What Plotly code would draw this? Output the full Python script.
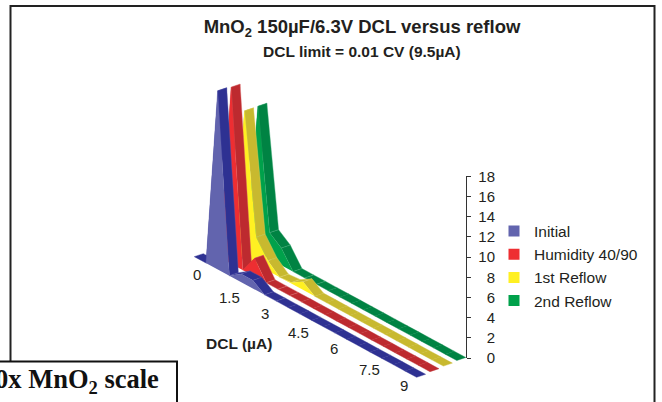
import plotly.graph_objects as go

# ---- data ----
dcl = [i * 0.5 for i in range(20)]
dcl_ticks = ["0", "1.5", "3", "4.5", "6", "7.5", "9"]
series_names = ["Initial", "Humidity 40/90", "1st Reflow", "2nd Reflow"]
initial = [0, 0, 17.7, 0, 0.8, 0.8, 0, 0, 0, 0, 0, 0, 0, 0, 0, 0, 0, 0, 0, 0]
humidity = [0, 0, 17.5, 0, 1.8, 0, 0, 0, 0, 0, 0, 0, 0, 0, 0, 0, 0, 0, 0, 0]
reflow1 = [0, 0, 14.6, 2.7, 1.0, 0, 0.1, 0.8, 0, 0, 0, 0, 0, 0, 0, 0, 0, 0, 0, 0]
reflow2 = [0, 0, 14.5, 2.6, 1.7, 0, 0, 0, 0, 0, 0, 0, 0, 0, 0, 0, 0, 0, 0, 0]
value_ticks = list(range(0, 19, 2))

# ---- styles / oblique projection ----
W, H = 662, 402
face_colors = ["#6264ae", "#ee2e32", "#fff022", "#00a14b"]
strip_colors = ["#2e3192", "#bd2a2f", "#c8b92f", "#008343"]
seam_colors = ["#5557a8", "#d86a6a", "#ddd36a", "#3da873"]
PX = 10.09            # pixels per value unit
Y0 = 358              # pixel row of value 0 on the right axis
X_ORG, Y_ORG = 194.3, 256.65
DX, DY = 23.4, 12.7   # pixels per unit of DCL
SX, SY = 13.4, -5.6   # pixels per series
BX, BY = 9.0, -3.0    # ribbon depth


def sx(d, s, back=0):
    return X_ORG + d * DX + s * SX + back * BX


def sy(d, s, v, back=0):
    row = Y_ORG + d * DY + s * SY + back * BY
    return v - (row - Y0) / PX


fig = go.Figure()
all_series = [initial, humidity, reflow1, reflow2]

for s in [3, 2, 1, 0]:
    vals = all_series[s]
    for i in range(len(dcl) - 1):
        d0, d1 = dcl[i], dcl[i + 1]
        v0, v1 = vals[i], vals[i + 1]
        fig.add_trace(go.Scatter(
            x=[sx(d0, s), sx(d1, s), sx(d1, s, 1), sx(d0, s, 1), sx(d0, s)],
            y=[sy(d0, s, v0), sy(d1, s, v1), sy(d1, s, v1, 1), sy(d0, s, v0, 1), sy(d0, s, v0)],
            mode="lines", fill="toself", fillcolor=strip_colors[s],
            line=dict(color=seam_colors[s] if 0 < i < 8 else strip_colors[s], width=0.4),
            showlegend=False, hoverinfo="skip", xaxis="x", yaxis="y3",
        ))
    xs = [sx(d, s) for d in dcl]
    ys = [sy(d, s, v) for d, v in zip(dcl, vals)]
    ground = [sy(d, s, 0) for d in dcl]
    fig.add_trace(go.Scatter(
        x=xs + xs[::-1], y=ys + ground[::-1],
        mode="lines", fill="toself", fillcolor=face_colors[s],
        line=dict(color=face_colors[s], width=0),
        showlegend=False, hoverinfo="skip", xaxis="x", yaxis="y3",
    ))

# legend entries
for s, name in enumerate(series_names):
    fig.add_trace(go.Scatter(
        x=[None], y=[None], mode="markers", name=name, legendgroup=name,
        marker=dict(symbol="square", size=11, color=face_colors[s]),
        xaxis="x", yaxis="y3",
    ))

# empty traces so that both value-scale axes are drawn
for axis in ["y", "y2"]:
    fig.add_trace(go.Scatter(x=[None], y=[None], mode="lines", showlegend=False,
                             hoverinfo="skip", xaxis="x", yaxis=axis))

FONT = "Liberation Sans"
TXT = "#231f20"
annotations = [
    dict(text="<b>DCL limit = 0.01 CV (9.5µA)</b>", x=362 / W, y=1 - 52 / H, font=dict(size=15.5)),
    dict(text="<b>DCL (µA)</b>", x=238.5 / W, y=1 - 343 / H, font=dict(size=15.5)),
]
label_px = [(197, 274), (229, 297), (265, 313), (298, 332), (334, 348), (369, 369), (404, 385)]
for t, (px, py) in zip(dcl_ticks, label_px):
    annotations.append(dict(text=t, x=px / W, y=1 - py / H, font=dict(size=15)))
annotations.append(dict(
    text="<b>0x MnO<sub>2</sub> scale</b>", x=161 / W, y=1 - 381 / H, xanchor="right",
    font=dict(family="Liberation Serif", size=26.5, color="#111111"),
))
for a in annotations:
    a.update(xref="paper", yref="paper", showarrow=False)
    a.setdefault("xanchor", "center")
    a.setdefault("yanchor", "middle")
    a["font"].setdefault("family", FONT)
    a["font"].setdefault("color", TXT)

shapes = [
    dict(type="rect", xref="paper", yref="paper", x0=10.5 / W, x1=654.5 / W, y0=1 - 420 / H, y1=1 - 6 / H,
         line=dict(color="#222222", width=2), fillcolor="rgba(0,0,0,0)", layer="below"),
    dict(type="rect", xref="paper", yref="paper", x0=-10 / W, x1=177 / W, y0=1 - 420 / H, y1=1 - 361.5 / H,
         line=dict(color="#111111", width=2), fillcolor="white", layer="above"),
]

domain = [(H - Y0) / H, (H - (Y0 - 18 * PX)) / H]
fig.update_layout(
    width=W, height=H, margin=dict(l=0, r=0, t=0, b=0, autoexpand=False),
    paper_bgcolor="white", plot_bgcolor="rgba(0,0,0,0)",
    font=dict(family=FONT, color=TXT),
    title=dict(text="<b>MnO<sub>2</sub> 150µF/6.3V DCL versus reflow</b>",
               x=362 / W, xanchor="center", y=1 - 27 / H, yanchor="middle",
               font=dict(size=18.5, family=FONT, color=TXT)),
    xaxis=dict(range=[0, W], visible=False, domain=[0, 1], fixedrange=True),
    yaxis=dict(range=[0, 18], domain=domain, anchor="free", position=495 / W, side="left",
               tickvals=value_ticks, ticks="", showline=False, showgrid=False, zeroline=False,
               tickfont=dict(size=15, family=FONT, color=TXT), fixedrange=True),
    yaxis2=dict(range=[0, 18], domain=domain, anchor="free", position=466 / W, side="right",
                tickvals=value_ticks, ticks="outside", ticklen=4, tickwidth=1, tickcolor="#333333",
                showticklabels=False, showline=True, linecolor="#333333", linewidth=1,
                showgrid=False, zeroline=False, fixedrange=True),
    yaxis3=dict(range=[(Y0 - H) / PX, Y0 / PX], domain=[0, 1], visible=False, fixedrange=True),
    legend=dict(x=494 / W, y=1 - 214.5 / H, xanchor="left", yanchor="top", tracegroupgap=0,
                bgcolor="rgba(0,0,0,0)", font=dict(size=15.5, family=FONT, color=TXT)),
    annotations=annotations, shapes=shapes,
)

fig.write_html("out.html", post_script="document.body.style.margin='0';", config={"displayModeBar": False})
